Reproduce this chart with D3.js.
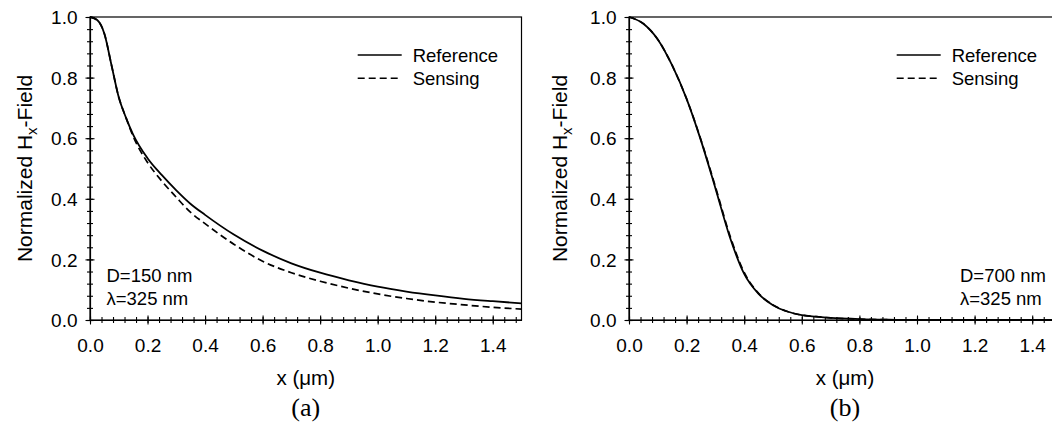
<!DOCTYPE html>
<html>
<head>
<meta charset="utf-8">
<script src="https://cdnjs.cloudflare.com/ajax/libs/d3/7.8.5/d3.min.js"></script>
<style>
    body { margin: 0; background: #fff; }
    text { font-family: Arial, "Liberation Sans", sans-serif; fill: #000; }
</style>
</head>
<body>
<div id="chart-area"></div>
<script>
// panel (a): D=150 nm
var xA   = [0, 0.025, 0.05, 0.075, 0.1, 0.125, 0.15, 0.2, 0.25, 0.3, 0.35, 0.4, 0.5, 0.6, 0.7, 0.8, 0.9, 1.0, 1.1, 1.2, 1.3, 1.4, 1.5];
var refA = [1.0, 0.99, 0.945, 0.84, 0.735, 0.668, 0.612, 0.534, 0.478, 0.428, 0.383, 0.347, 0.282, 0.229, 0.187, 0.156, 0.131, 0.110, 0.094, 0.081, 0.070, 0.062, 0.055];
var senA = [1.0, 0.99, 0.945, 0.84, 0.735, 0.668, 0.606, 0.52, 0.458, 0.405, 0.355, 0.318, 0.25, 0.194, 0.156, 0.128, 0.105, 0.086, 0.071, 0.059, 0.050, 0.042, 0.036];

// panel (b): D=700 nm
var xB   = [0, 0.05, 0.1, 0.15, 0.2, 0.25, 0.3, 0.35, 0.4, 0.45, 0.5, 0.55, 0.6, 0.65, 0.7, 0.8, 0.9, 1.0, 1.2, 1.4, 1.5];
var refB = [1.0, 0.978, 0.926, 0.84, 0.73, 0.592, 0.435, 0.274, 0.152, 0.086, 0.049, 0.028, 0.016, 0.011, 0.007, 0.003, 0.001, 0, 0, 0, 0];
var senB = [1.0, 0.978, 0.926, 0.84, 0.73, 0.594, 0.44, 0.28, 0.157, 0.088, 0.05, 0.028, 0.016, 0.011, 0.007, 0.003, 0.001, 0, 0, 0, 0];

var xTicks = [0, 0.2, 0.4, 0.6, 0.8, 1.0, 1.2, 1.4];
var yTicks = [0, 0.2, 0.4, 0.6, 0.8, 1.0];
var seriesNames = ["Reference", "Sensing"];

var plotTop = 17, plotBottom = 320;

var svg = d3.select('#chart-area')
    .append("svg")
        .attr("width", 1052)
        .attr("height", 433)
        .style("background", "#fff");

var panels = [
    { left: 90, right: 521.5, xs: xA, ref: refA, sen: senA, tag: "(a)",
      note: ["D=150 nm", "\u03bb=325 nm"], noteX: 106.5, yLabelX: 32 },
    { left: 629, right: 1061, xs: xB, ref: refB, sen: senB, tag: "(b)",
      note: ["D=700 nm", "\u03bb=325 nm"], noteX: 960, yLabelX: 567 }
];

var minorX = d3.range(0, 38).map(i => +(i * 0.04).toFixed(2));
var minorY = d3.range(0, 26).map(i => +(i * 0.04).toFixed(2));

panels.forEach(p => {
    var x = d3.scaleLinear().domain([0, 1.5]).range([p.left, p.right]);
    var y = d3.scaleLinear().domain([0, 1.0]).range([plotBottom, plotTop]);
    var g = svg.append("g");

    // frame
    g.append("rect")
        .attr("x", p.left).attr("y", plotTop)
        .attr("width", p.right - p.left).attr("height", plotBottom - plotTop)
        .attr("fill", "none").attr("stroke", "#000").attr("stroke-width", 1.2);

    // x axis: minor then major ticks, crossing the axis line
    var xMinor = g.append("g")
        .attr("transform", "translate(0," + plotBottom + ")")
        .call(d3.axisBottom(x).tickValues(minorX).tickFormat("").tickSizeOuter(0));
    xMinor.selectAll(".tick line").attr("y1", -3).attr("y2", 3).attr("stroke-width", 1.1);
    xMinor.select(".domain").attr("stroke-width", 1.2);

    var xMajor = g.append("g")
        .attr("transform", "translate(0," + plotBottom + ")")
        .call(d3.axisBottom(x).tickValues(xTicks).tickFormat(d3.format(".1f")).tickSizeOuter(0));
    xMajor.select(".domain").remove();
    xMajor.selectAll(".tick line").attr("y1", -4.5).attr("y2", 4.5).attr("stroke-width", 1.1);
    xMajor.selectAll(".tick text")
        .attr("y", 31.5).attr("dy", 0)
        .style("font-size", "19px")
        .style("font-family", "Arial, 'Liberation Sans', sans-serif");

    // y axis
    var yMinor = g.append("g")
        .attr("transform", "translate(" + p.left + ",0)")
        .call(d3.axisLeft(y).tickValues(minorY).tickFormat("").tickSizeOuter(0));
    yMinor.selectAll(".tick line").attr("x1", -3).attr("x2", 3).attr("stroke-width", 1.1);
    yMinor.select(".domain").attr("stroke-width", 1.2);

    var yMajor = g.append("g")
        .attr("transform", "translate(" + p.left + ",0)")
        .call(d3.axisLeft(y).tickValues(yTicks).tickFormat(d3.format(".1f")).tickSizeOuter(0));
    yMajor.select(".domain").remove();
    yMajor.selectAll(".tick line").attr("x1", -4.5).attr("x2", 4.5).attr("stroke-width", 1.1);
    yMajor.selectAll(".tick text")
        .attr("x", -12.5).attr("dy", "0.35em")
        .style("font-size", "19px")
        .style("font-family", "Arial, 'Liberation Sans', sans-serif");

    // curves
    var line = d3.line()
        .x(d => x(d[0]))
        .y(d => y(d[1]))
        .curve(d3.curveMonotoneX);

    g.append("path")
        .datum(p.xs.map((v, i) => [v, p.sen[i]]))
        .attr("d", line)
        .attr("fill", "none").attr("stroke", "#000")
        .attr("stroke-width", 1.7).attr("stroke-dasharray", "7,4");

    g.append("path")
        .datum(p.xs.map((v, i) => [v, p.ref[i]]))
        .attr("d", line)
        .attr("fill", "none").attr("stroke", "#000")
        .attr("stroke-width", 1.8);

    // legend
    seriesNames.forEach((name, i) => {
        var ly = 55 + i * 23.3;
        g.append("line")
            .attr("x1", p.left + 267.7).attr("x2", p.left + 311.7)
            .attr("y1", ly).attr("y2", ly)
            .attr("stroke", "#000").attr("stroke-width", 1.6)
            .attr("stroke-dasharray", i === 1 ? "7,4" : null);
        g.append("text")
            .attr("x", p.left + 322.7).attr("y", ly + 6.7)
            .style("font-size", "18.5px")
            .text(name);
    });

    // annotation
    p.note.forEach((t, i) => {
        g.append("text")
            .attr("x", p.noteX).attr("y", 281.5 + i * 23)
            .style("font-size", "18.5px")
            .text(t);
    });

    // axis titles
    var cx = (p.left + p.right) / 2;
    g.append("text")
        .attr("x", cx).attr("y", 385)
        .attr("text-anchor", "middle")
        .style("font-size", "20.5px")
        .text("x (\u03bcm)");

    var yl = g.append("text")
        .attr("transform", "translate(" + p.yLabelX + "," + ((plotTop + plotBottom) / 2) + ") rotate(-90)")
        .attr("text-anchor", "middle")
        .style("font-size", "21px");
    yl.append("tspan").text("Normalized H");
    yl.append("tspan").attr("dy", 5).style("font-size", "15px").text("x");
    yl.append("tspan").attr("dy", -5).text("-Field");

    g.append("text")
        .attr("x", cx).attr("y", 416)
        .attr("text-anchor", "middle")
        .style("font-family", "'Times New Roman', 'Liberation Serif', serif")
        .style("font-size", "26px")
        .text(p.tag);
});
</script>
</body>
</html>
